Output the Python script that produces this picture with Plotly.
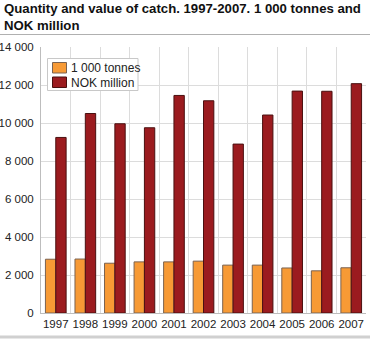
import plotly.graph_objects as go

years = ["1997", "1998", "1999", "2000", "2001", "2002", "2003", "2004", "2005", "2006", "2007"]
tonnes = [2830, 2840, 2620, 2690, 2690, 2730, 2520, 2520, 2370, 2220, 2380]
nok_million = [9240, 10500, 9960, 9750, 11450, 11170, 8890, 10420, 11680, 11670, 12070]
y_ticks = [0, 2000, 4000, 6000, 8000, 10000, 12000, 14000]
series_names = ["1 000 tonnes", "NOK million"]
series_colors = ["#F79A35", "#9B1B1F"]
series_edges = ["#7a6250", "#4a1010"]

FONT = "Liberation Sans, Arial, sans-serif"

# plot area in pixels: left 41, right 366, top 47, bottom 313
L, R, T, B = 41, 4, 47, 26
W, H = 370, 339
PW, PH = W - L - R, H - T - B


def px(x):
    return (x - L) / PW


def py(y):
    return (H - B - y) / PH


fig = go.Figure()
for name, vals, col, edge in zip(series_names, [tonnes, nok_million], series_colors, series_edges):
    fig.add_trace(go.Bar(
        x=years, y=vals, name=name,
        marker=dict(color=col, line=dict(color=edge, width=1)),
    ))

# legend box drawn with shapes for a compact swatch/text layout
shapes = [
    dict(type="rect", xref="paper", yref="paper",
         x0=px(47.5), x1=px(138), y0=py(90.5), y1=py(58.5),
         fillcolor="white", line=dict(color="#c8c8c8", width=1), layer="above"),
]
annotations = []
for i, (name, col, edge) in enumerate(zip(series_names, series_colors, series_edges)):
    top = 62.5 + i * 14.5
    shapes.append(dict(type="rect", xref="paper", yref="paper",
                       x0=px(52.5), x1=px(66.5), y0=py(top + 10.5), y1=py(top),
                       fillcolor=col, line=dict(color=edge, width=1), layer="above"))
    annotations.append(dict(text=name, xref="paper", yref="paper",
                            x=px(68.5), y=py(top + 5.5), xanchor="left", yanchor="middle",
                            showarrow=False, font=dict(family=FONT, size=12, color="#222222")))

annotations.append(dict(
    text="Quantity and value of catch. 1997-2007. 1 000 tonnes and<br>NOK million",
    xref="paper", yref="paper", x=px(2), y=py(-1),
    xanchor="left", yanchor="top", align="left", showarrow=False,
    font=dict(family=FONT, size=13.2, color="#111111", weight="bold"),
))
shapes += [
    dict(type="line", xref="paper", yref="paper",
         x0=px(0), x1=px(W), y0=py(34.5), y1=py(34.5),
         line=dict(color="#b0b0b0", width=1)),
    dict(type="line", xref="paper", yref="paper",
         x0=px(0), x1=px(W), y0=py(337), y1=py(337),
         line=dict(color="#d0d0d0", width=3)),
]

fig.update_layout(
    width=W, height=H,
    margin=dict(l=L, r=R, t=T, b=B, autoexpand=False),
    paper_bgcolor="white", plot_bgcolor="white",
    barmode="group", bargap=0.3, bargroupgap=0,
    separators=", ",
    font=dict(family=FONT, size=12, color="#222222"),
    showlegend=False,
    xaxis=dict(
        type="category", tickson="boundaries", tickangle=0, automargin=False,
        showgrid=True, gridcolor="#dcdcdc", gridwidth=1,
        showline=True, linecolor="#bdbdbd", linewidth=1,
        ticks="", tickfont=dict(size=11.5, color="#222222"),
        fixedrange=True,
    ),
    yaxis=dict(
        range=[0, 14000], tickvals=y_ticks, tickformat=",d", automargin=False,
        showgrid=True, gridcolor="#dcdcdc", gridwidth=1,
        showline=True, linecolor="#bdbdbd", linewidth=1,
        zeroline=False, ticks="", ticklabelstandoff=4,
        tickfont=dict(size=11.5, color="#222222"),
        fixedrange=True,
    ),
    shapes=shapes,
    annotations=annotations,
)

fig.write_html("out.html")
